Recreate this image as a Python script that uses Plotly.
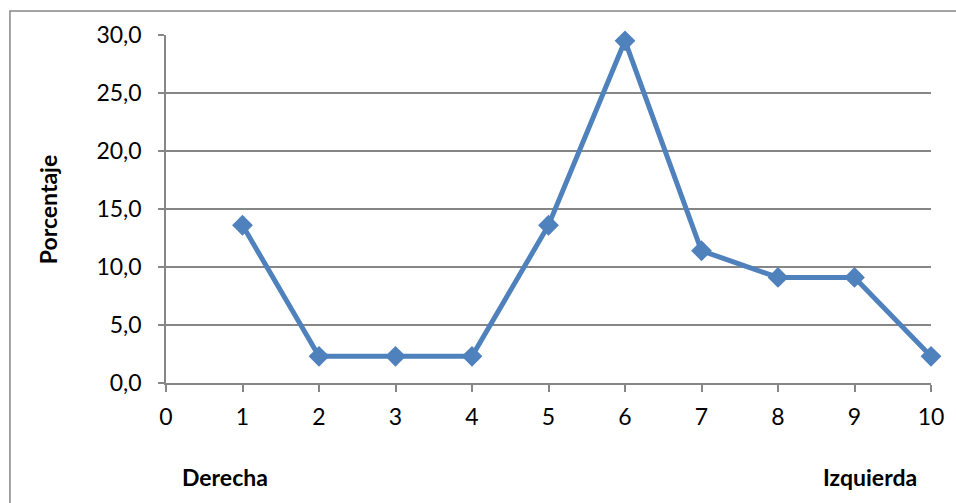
import plotly.graph_objects as go

# Position on the left-right scale (1 = Derecha, 10 = Izquierda)
escala = [1, 2, 3, 4, 5, 6, 7, 8, 9, 10]
# Share of respondents at each position (%)
porcentaje = [13.6, 2.3, 2.3, 2.3, 13.6, 29.5, 11.4, 9.1, 9.1, 2.3]

y_ticks = [0, 5, 10, 15, 20, 25, 30]
x_ticks = list(range(0, 11))

AZUL = "#4F81BD"
GRIS = "#868686"
FUENTE = "Lato"

fig = go.Figure()
fig.add_trace(go.Scatter(
    x=escala, y=porcentaje, mode="lines+markers",
    line=dict(color=AZUL, width=5),
    marker=dict(symbol="diamond", size=16, color=AZUL),
    cliponaxis=False, showlegend=False,
))

fig.update_layout(
    width=956, height=503,
    margin=dict(l=166, r=25, t=35, b=120),
    paper_bgcolor="white", plot_bgcolor="white",
    separators=",.",
    font=dict(family=FUENTE, size=23, color="black"),
    xaxis=dict(
        range=[0, 10], tickvals=x_ticks, showgrid=False, zeroline=False,
        showline=True, linecolor=GRIS, linewidth=1.5,
        ticks="outside", ticklen=7, tickcolor=GRIS, tickwidth=1.5,
        ticklabelstandoff=6,
    ),
    yaxis=dict(
        range=[0, 30], tickvals=y_ticks, tickformat=".1f",
        showgrid=True, gridcolor=GRIS, gridwidth=1.5, zeroline=False,
        showline=True, linecolor=GRIS, linewidth=1.5,
        ticks="outside", ticklen=6, tickcolor=GRIS, tickwidth=1.5,
        ticklabelstandoff=12,
    ),
    shapes=[dict(
        type="rect", xref="paper", yref="paper",
        x0=-0.204, x1=1.2, y0=-0.6, y1=1.069,
        line=dict(color=GRIS, width=1.5), layer="below",
    )],
    annotations=[
        dict(text="<b>Porcentaje</b>", xref="paper", yref="paper",
             x=-0.154, y=0.497, xanchor="center", yanchor="middle",
             textangle=-90, showarrow=False, font=dict(size=23)),
        dict(text="<b>Derecha</b>", xref="paper", yref="paper",
             x=0.077, y=-0.27, xanchor="center", yanchor="middle",
             showarrow=False, font=dict(size=23)),
        dict(text="<b>Izquierda</b>", xref="paper", yref="paper",
             x=0.92, y=-0.27, xanchor="center", yanchor="middle",
             showarrow=False, font=dict(size=23)),
    ],
)

fig.write_html("out.html")
